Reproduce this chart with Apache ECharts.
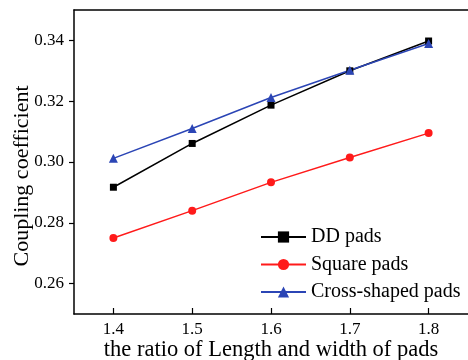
<!DOCTYPE html>
<html>
<head>
<meta charset="utf-8">
<script src="https://cdn.jsdelivr.net/npm/echarts@6/dist/echarts.min.js"></script>
<style>
  html, body { margin: 0; padding: 0; background: #fff; }
  #chart { width: 468px; height: 360px; }
</style>
</head>
<body>
<div id="chart"></div>
<script>
// ratio of length and width of pads
const ratios = [1.4, 1.5, 1.6, 1.7, 1.8];
const ddPads = [0.2917, 0.3061, 0.3187, 0.3300, 0.3398];
const squarePads = [0.2750, 0.2840, 0.2933, 0.3015, 0.3095];
const crossPads = [0.3012, 0.3110, 0.3212, 0.3302, 0.3390];
const yTicks = [0.26, 0.28, 0.30, 0.32, 0.34];

const font = "'Liberation Serif', 'DejaVu Serif', serif";

const chart = echarts.init(document.getElementById("chart"));

function pairs(vals) {
  return ratios.map((x, i) => [x, vals[i]]);
}

const option = {
  animation: false,
  backgroundColor: "#fff",
  grid: { left: 74, right: 0, top: 10, bottom: 46, outerBoundsMode: "none", containLabel: false },
  legend: {
    orient: "vertical",
    left: 260,
    top: 227,
    padding: 0,
    itemWidth: 45,
    itemHeight: 14,
    itemGap: 7.5,
    textStyle: { fontFamily: font, fontSize: 20, color: "#000" },
    data: ["DD pads", "Square pads", "Cross-shaped pads"]
  },
  xAxis: [
    {
      type: "value",
      min: 1.35,
      max: 1.85,
      name: "the ratio of Length and width of pads",
      nameLocation: "middle",
      nameMoveOverlap: false,
      nameGap: 25,
      nameTextStyle: { fontFamily: font, fontSize: 22.5, color: "#000" },
      axisLine: { onZero: false, lineStyle: { color: "#000", width: 1.5 } },
      axisTick: { inside: true, length: 6, customValues: ratios, lineStyle: { color: "#000", width: 1.2 } },
      axisLabel: { customValues: ratios, fontFamily: font, fontSize: 17, color: "#000", margin: 7,
        formatter: v => v.toFixed(1) },
      splitLine: { show: false }
    },
    {
      type: "value",
      position: "top",
      min: 1.35,
      max: 1.85,
      axisLine: { onZero: false, lineStyle: { color: "#000", width: 1.5 } },
      axisTick: { show: false },
      axisLabel: { show: false },
      splitLine: { show: false }
    }
  ],
  yAxis: {
    type: "value",
    min: 0.25,
    max: 0.35,
    name: "Coupling coefficient",
    nameLocation: "middle",
    nameMoveOverlap: false,
    nameGap: 41,
    nameTextStyle: { fontFamily: font, fontSize: 22, color: "#000", padding: [0, 28, 0, 0] },
    axisLine: { onZero: false, lineStyle: { color: "#000", width: 1.5 } },
    axisTick: { inside: false, length: 5, customValues: yTicks, lineStyle: { color: "#000", width: 1.2 } },
    axisLabel: { customValues: yTicks, fontFamily: font, fontSize: 17, color: "#000", margin: 10,
      formatter: v => v.toFixed(2) },
    splitLine: { show: false }
  },
  series: [
    {
      name: "DD pads",
      type: "line",
      data: pairs(ddPads),
      symbol: "rect",
      symbolSize: 7,
      color: "#000",
      lineStyle: { width: 1.5 }
    },
    {
      name: "Square pads",
      type: "line",
      data: pairs(squarePads),
      symbol: "circle",
      symbolSize: 8,
      color: "#ff1a1a",
      lineStyle: { width: 1.5 }
    },
    {
      name: "Cross-shaped pads",
      type: "line",
      data: pairs(crossPads),
      symbol: "triangle",
      symbolSize: 9,
      color: "#2b45b5",
      lineStyle: { width: 1.5 }
    }
  ]
};

chart.setOption(option);
</script>
</body>
</html>
